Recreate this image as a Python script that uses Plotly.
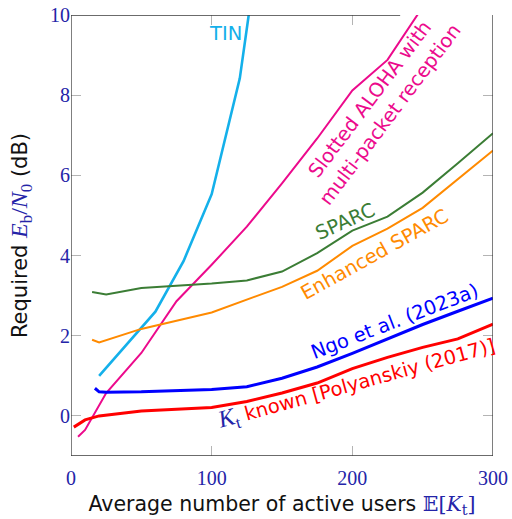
import plotly.graph_objects as go

# Required Eb/N0 (dB) versus average number of active users E[Kt]
kt_known_x = [2, 10, 20, 50, 100, 125, 150, 175, 200, 225, 250, 275, 300]
kt_known_y = [-0.28, -0.1, 0.0, 0.12, 0.21, 0.36, 0.57, 0.82, 1.18, 1.46, 1.71, 1.92, 2.29]

ngo_x = [17, 20, 25, 50, 100, 125, 150, 175, 200, 225, 250, 275, 300]
ngo_y = [0.69, 0.6, 0.59, 0.6, 0.66, 0.73, 0.94, 1.22, 1.56, 1.93, 2.28, 2.61, 2.94]

enh_sparc_x = [15, 20, 50, 100, 150, 175, 200, 225, 250, 275, 300]
enh_sparc_y = [1.9, 1.83, 2.17, 2.58, 3.22, 3.62, 4.24, 4.67, 5.19, 5.9, 6.62]

sparc_x = [15, 25, 50, 100, 125, 150, 175, 200, 225, 250, 275, 300]
sparc_y = [3.09, 3.03, 3.19, 3.3, 3.38, 3.6, 4.06, 4.62, 4.97, 5.57, 6.3, 7.05]

tin_x = [20, 40, 60, 80, 100, 120, 140]
tin_y = [1.0, 1.8, 2.6, 3.86, 5.53, 8.42, 13.4]

aloha_x = [5, 10, 25, 50, 75, 100, 125, 150, 175, 200, 225, 250]
aloha_y = [-0.52, -0.35, 0.57, 1.57, 2.86, 3.77, 4.72, 5.8, 6.92, 8.12, 8.88, 10.2]

x_ticks = [0, 100, 200, 300]
y_ticks = [0, 2, 4, 6, 8, 10]

RED = "#ff0000"
BLUE = "#0000ff"
ORANGE = "#ff8a00"
GREEN = "#3b7d35"
CYAN = "#14b0ea"
PINK = "#ec0a8c"
TICKBLUE = "#2424a8"
SANS = "DejaVu Sans"
SERIF = "Liberation Serif"

fig = go.Figure()
series = [
    (tin_x, tin_y, CYAN, 2.6),
    (aloha_x, aloha_y, PINK, 2.0),
    (sparc_x, sparc_y, GREEN, 2.0),
    (enh_sparc_x, enh_sparc_y, ORANGE, 2.0),
    (ngo_x, ngo_y, BLUE, 3.0),
    (kt_known_x, kt_known_y, RED, 3.0),
]
for xs, ys, col, w in series:
    fig.add_trace(go.Scatter(x=xs, y=ys, mode="lines",
                             line=dict(color=col, width=w), showlegend=False))

# curve labels
labels = [
    ("TIN", 109.5, 9.54, 0, CYAN),
    ("Slotted ALOHA with<br>multi-packet reception", 219.6, 7.7, -53, PINK),
    ("SPARC", 195, 4.85, -24, GREEN),
    ("Enhanced SPARC", 215.8, 4.03, -29, ORANGE),
    ("Ngo et al. (2023a)", 230, 2.35, -21, BLUE),
    ('<span style="font-family:Liberation Serif;font-size:24px;color:#2424a8"><i>K</i><sub>t</sub></span>'
     ' known [Polyanskiy (2017)]', 203, 0.8, -15.5, RED),
]
for txt, x, y, ang, col in labels:
    fig.add_annotation(x=x, y=y, text=txt, textangle=ang, showarrow=False,
                       xanchor="center", yanchor="middle",
                       font=dict(family=SANS, size=19.5, color=col))

# frame
frame = dict(color="#3a3a3a", width=1.3)
fig.add_shape(type="line", xref="x", yref="y", x0=0, x1=0, y0=-1, y1=10, line=frame)
fig.add_shape(type="line", xref="x", yref="y", x0=300, x1=300, y0=-1, y1=10, line=frame)
fig.add_shape(type="line", xref="x", yref="y", x0=0, x1=300, y0=-1, y1=-1, line=frame)
fig.add_shape(type="line", xref="x", yref="y", x0=0, x1=234, y0=10, y1=10, line=frame)

axis_common = dict(
    showgrid=False, zeroline=False, showline=False, mirror="ticks", automargin=False,
    ticks="inside", ticklen=10, tickcolor="#b4b4b4", tickwidth=1.2,
    tickfont=dict(family=SERIF, size=20, color=TICKBLUE),
)
fig.update_xaxes(range=[0, 300], tickvals=x_ticks, ticklabelstandoff=8, **axis_common,
                 title=dict(text='Average number of active users '
                            '<span style="font-family:DejaVu Serif;color:#2424a8">𝔼[<i>K</i><sub>t</sub>]</span>',
                            font=dict(family=SANS, size=20.5, color="#111111"), standoff=8))
fig.update_yaxes(range=[-1, 10], tickvals=y_ticks, **axis_common,
                 title=dict(text='Required <span style="font-family:Liberation Serif;font-size:24px;color:#2424a8">'
                            '<i>E</i><sub>b</sub>/<i>N</i><sub>0</sub></span> (dB)',
                            font=dict(family=SANS, size=21, color="#111111"), standoff=16))

fig.update_layout(
    width=512, height=519,
    margin=dict(l=71, r=19, t=15, b=63),
    plot_bgcolor="white", paper_bgcolor="white",
)
fig.write_html("out.html")
